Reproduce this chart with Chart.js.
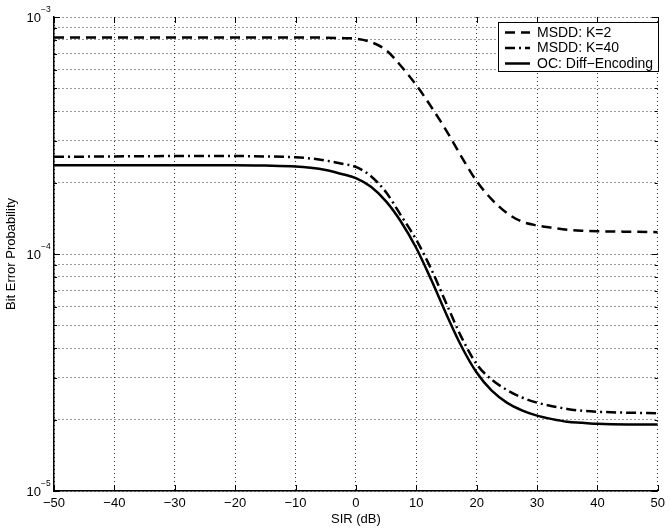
<!DOCTYPE html>
<html><head><meta charset="utf-8">
<script src="https://cdn.jsdelivr.net/npm/chart.js@4/dist/chart.umd.min.js"></script>
<style>html,body{margin:0;padding:0;background:#fff}canvas{display:block}</style>
</head><body>
<canvas id="c" width="670" height="529"></canvas>
<script>
const sir = [-50,-40,-30,-20,-15,-10,-7.5,-5,-2.5,0,2.5,5,7.5,10,12.5,15,17.5,20,22.5,25,27.5,30,32.5,35,37.5,40,45,50];
const msddK2 = [8.2e-4,8.2e-4,8.2e-4,8.2e-4,8.2e-4,8.2e-4,8.2e-4,8.18e-4,8.15e-4,8.1e-4,7.84e-4,7.25e-4,6.2e-4,5.16e-4,4.17e-4,3.31e-4,2.57e-4,2.03e-4,1.70e-4,1.49e-4,1.37e-4,1.32e-4,1.29e-4,1.265e-4,1.253e-4,1.247e-4,1.242e-4,1.236e-4];
const msddK40 = [2.57e-4,2.58e-4,2.59e-4,2.59e-4,2.58e-4,2.56e-4,2.53e-4,2.48e-4,2.41e-4,2.33e-4,2.13e-4,1.82e-4,1.45e-4,1.148e-4,8.61e-5,6.17e-5,4.45e-5,3.43e-5,2.95e-5,2.67e-5,2.48e-5,2.36e-5,2.28e-5,2.22e-5,2.18e-5,2.16e-5,2.14e-5,2.13e-5];
const ocDiff = [2.37e-4,2.37e-4,2.37e-4,2.37e-4,2.36e-4,2.34e-4,2.31e-4,2.26e-4,2.18e-4,2.09e-4,1.92e-4,1.667e-4,1.365e-4,1.06e-4,7.76e-5,5.56e-5,4.07e-5,3.16e-5,2.65e-5,2.36e-5,2.19e-5,2.08e-5,2.01e-5,1.96e-5,1.94e-5,1.92e-5,1.91e-5,1.91e-5];
const xTicks = [-50,-40,-30,-20,-10,0,10,20,30,40,50];
const yDecades = [-5,-4,-3];
const seriesNames = ['MSDD: K=2','MSDD: K=40','OC: Diff\u2212Encoding'];
const xTitle = 'SIR (dB)';
const yTitle = 'Bit Error Probability';

const FONT = '"Liberation Sans", Arial, Helvetica, sans-serif';

function pts(arr){ return sir.map((s,i)=>({x:s,y:arr[i]})); }

const yTickVals = [];
for (let d = yDecades[0]; d < yDecades[yDecades.length-1]; d++) {
  for (let m = 1; m <= 9; m++) yTickVals.push(m * Math.pow(10, d));
}
yTickVals.push(Math.pow(10, yDecades[yDecades.length-1]));

const common = {fill:false, pointRadius:0, borderColor:'#000', borderWidth:2.5, cubicInterpolationMode:'monotone'};

const overlay = {
  id:'overlay',
  afterDraw(chart){
    const {ctx, chartArea:{left,right,top,bottom}, scales:{x,y}} = chart;
    ctx.save();
    ctx.strokeStyle = '#000'; ctx.lineWidth = 1; ctx.setLineDash([]);
    ctx.beginPath();
    xTicks.forEach(v=>{
      const px = Math.round(x.getPixelForValue(v))+0.5;
      ctx.moveTo(px,bottom); ctx.lineTo(px,bottom-6);
      ctx.moveTo(px,top); ctx.lineTo(px,top+6);
    });
    yTickVals.forEach(v=>{
      const py = Math.round(y.getPixelForValue(v))+0.5;
      const major = Math.abs(Math.log10(v) - Math.round(Math.log10(v))) < 1e-9;
      const len = major ? 6 : 3;
      ctx.moveTo(left,py); ctx.lineTo(left+len,py);
      ctx.moveTo(right,py); ctx.lineTo(right-len,py);
    });
    ctx.stroke();
    ctx.fillStyle = '#000';
    yDecades.forEach(d=>{
      const py = y.getPixelForValue(Math.pow(10,d));
      ctx.font = '13px ' + FONT;
      ctx.textAlign = 'right'; ctx.textBaseline = 'middle';
      ctx.fillText('10', 41, py+1);
      ctx.font = '8.5px ' + FONT;
      ctx.textAlign = 'left';
      ctx.fillText('\u2212' + Math.abs(d), 41, py-7);
    });
    const bx = 498.5, by = 22.5, bw = 160, bh = 49;
    ctx.fillStyle = '#fff';
    ctx.fillRect(bx, by, bw, bh);
    ctx.lineWidth = 1; ctx.strokeStyle = '#000';
    ctx.strokeRect(bx, by, bw, bh);
    const rows = [32.5, 48, 63.5];
    chart.data.datasets.forEach((ds,i)=>{
      ctx.beginPath();
      ctx.lineWidth = ds.borderWidth;
      ctx.setLineDash(ds.borderDash || []);
      ctx.moveTo(505, rows[i]); ctx.lineTo(530, rows[i]);
      ctx.stroke();
      ctx.setLineDash([]);
      ctx.font = '14px ' + FONT;
      ctx.textAlign = 'left'; ctx.textBaseline = 'middle';
      ctx.fillStyle = '#000';
      ctx.fillText(ds.label, 537, rows[i]+0.5);
    });
    ctx.restore();
  }
};

new Chart(document.getElementById('c'), {
  type:'line',
  data:{
    datasets:[
      Object.assign({label:seriesNames[0], data:pts(msddK2), borderDash:[10,6]}, common),
      Object.assign({label:seriesNames[1], data:pts(msddK40), borderDash:[10,4,2,4]}, common),
      Object.assign({label:seriesNames[2], data:pts(ocDiff)}, common)
    ]
  },
  options:{
    responsive:false, animation:false,
    layout:{padding:{left:0, top:17, right:7, bottom:0}},
    plugins:{legend:{display:false}, tooltip:{enabled:false}},
    scales:{
      x:{
        type:'linear', min:-50, max:50,
        afterBuildTicks(s){ s.ticks = xTicks.map(v=>({value:v})); },
        afterFit(s){ s.height = 38; },
        grid:{color:'#333', lineWidth:1, drawTicks:false},
        border:{display:true, color:'#000', width:1.5, dash:[1,3]},
        ticks:{color:'#000', padding:5, font:{family:FONT, size:13},
          callback:(v)=> (v<0?'\u2212':'') + Math.abs(v)},
        title:{display:true, text:xTitle, color:'#000', font:{family:FONT, size:13}, padding:{top:0,bottom:2}}
      },
      y:{
        type:'logarithmic', min:1e-5, max:1e-3,
        afterBuildTicks(s){ s.ticks = yTickVals.map(v=>({value:v})); },
        afterFit(s){ s.width = 54; },
        grid:{color:'#333', lineWidth:1, drawTicks:false},
        border:{display:true, color:'#000', width:1.5, dash:[1,3]},
        ticks:{display:false},
        title:{display:true, text:yTitle, color:'#000', font:{family:FONT, size:13}, padding:{top:4,bottom:0}}
      }
    }
  },
  plugins:[overlay]
});
</script>
</body></html>
